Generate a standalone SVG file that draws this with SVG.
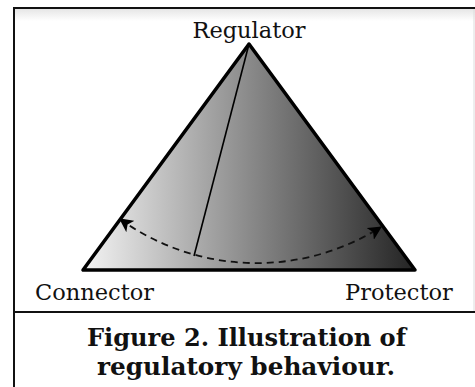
<svg xmlns="http://www.w3.org/2000/svg" width="475" height="387" viewBox="0 0 475 387">
  <style>
    .label { font-family: "DejaVu Serif", "Liberation Serif", serif; font-size: 22.5px; fill: #111; }
    .caption { font-family: "DejaVu Serif", "Liberation Serif", serif; font-size: 24px; font-weight: bold; fill: #111; text-anchor: middle; }
    .frame { stroke: #111; stroke-width: 2; fill: none; }
    .edge { stroke: #000; stroke-width: 1.6; fill: none; }
    .flow { stroke: #111; stroke-width: 1.8; fill: none; stroke-dasharray: 7 5; }
  </style>
  <defs>
    <linearGradient id="shade" gradientUnits="userSpaceOnUse" x1="83" y1="0" x2="415" y2="0">
      <stop offset="0" stop-color="#f4f4f4"/>
      <stop offset="0.5" stop-color="#8a8a8a"/>
      <stop offset="1" stop-color="#232323"/>
    </linearGradient>
    <linearGradient id="topShadow" x1="0" y1="0" x2="0" y2="1">
      <stop offset="0" stop-color="#e6e6e6"/>
      <stop offset="1" stop-color="#ffffff"/>
    </linearGradient>
    <marker id="head" viewBox="0 0 12 12" refX="11" refY="6" markerWidth="14" markerHeight="14" markerUnits="userSpaceOnUse" orient="auto-start-reverse">
      <path d="M0,0 L12,6 L0,12 L3,6 Z" fill="#000"/>
    </marker>
  </defs>

  <rect x="0" y="0" width="475" height="387" fill="#ffffff"/>

  <!-- panel frame -->
  <g id="frame">
    <rect x="15" y="9" width="460" height="12" fill="url(#topShadow)"/>
    <line x1="14" y1="8" x2="475" y2="8" class="frame"/>
    <line x1="14" y1="7" x2="14" y2="387" class="frame"/>
    <line x1="14" y1="312" x2="475" y2="312" class="frame"/>
    <line x1="474" y1="9" x2="474" y2="311" stroke="#dcdcdc" stroke-width="1"/>
  </g>

  <!-- pyramid -->
  <g id="pyramid">
    <polygon points="249,44 83,270 415,270" fill="url(#shade)" stroke="#000" stroke-width="3.5" stroke-linejoin="round"/>
  </g>

  <!-- connectors -->
  <g id="connectors">
    <line x1="249" y1="44" x2="194" y2="256" class="edge"/>
    <path d="M120,219 A233,233 0 0 0 381,227" class="flow" marker-start="url(#head)" marker-end="url(#head)"/>
  </g>

  <g id="regulator">
    <text class="label" x="249" y="38" text-anchor="middle">Regulator</text>
  </g>
  <g id="connector">
    <text class="label" x="35" y="300">Connector</text>
  </g>
  <g id="protector">
    <text class="label" x="345" y="300">Protector</text>
  </g>

  <g id="caption">
    <text class="caption" x="246.5" y="346" textLength="319" lengthAdjust="spacingAndGlyphs">Figure 2. Illustration of</text>
    <text class="caption" x="246" y="375" textLength="298" lengthAdjust="spacingAndGlyphs">regulatory behaviour.</text>
  </g>
</svg>
